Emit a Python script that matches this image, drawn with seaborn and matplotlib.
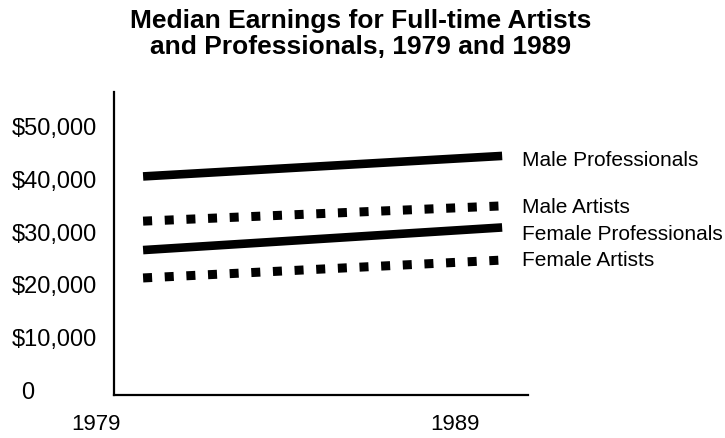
import numpy as np
import pandas as pd
import matplotlib
matplotlib.use("Agg")
import matplotlib.pyplot as plt
import matplotlib.transforms as mtransforms
import seaborn as sns

# ---- data ----
years = [1979, 1989]
groups = ["Male Professionals", "Male Artists", "Female Professionals", "Female Artists"]
male_professionals = [40600, 44500]
male_artists = [32100, 35000]
female_professionals = [26600, 30900]
female_artists = [21300, 24700]
y_ticks = [0, 10000, 20000, 30000, 40000, 50000]
y_tick_labels = ["0", "$10,000", "$20,000", "$30,000", "$40,000", "$50,000"]
x_tick_labels = ["1979", "1989"]
title = "Median Earnings for Full-time Artists\nand Professionals, 1979 and 1989"

series = {
    "Male Professionals": male_professionals,
    "Male Artists": male_artists,
    "Female Professionals": female_professionals,
    "Female Artists": female_artists,
}
df = pd.DataFrame(
    [(g, y, v) for g, vals in series.items() for y, v in zip(years, vals)],
    columns=["group", "year", "earnings"],
)

sns.set_style("white")
plt.rcParams["font.family"] = ["Liberation Sans", "DejaVu Sans"]
plt.rcParams["text.color"] = "black"
plt.rcParams["xtick.color"] = "black"
plt.rcParams["ytick.color"] = "black"
plt.rcParams["xtick.labelcolor"] = "black"
plt.rcParams["ytick.labelcolor"] = "black"

fig = plt.figure(figsize=(7.25, 4.38), dpi=100)
ax = fig.add_axes([114 / 725, (438 - 395) / 438, (528 - 114) / 725, (395 - 92) / 438])

dashes = {
    "Male Professionals": "",
    "Male Artists": (1, 1.4),
    "Female Professionals": "",
    "Female Artists": (1, 1.4),
}
palette = {g: "black" for g in groups}
sns.lineplot(data=df, x="year", y="earnings", hue="group", style="group",
             palette=palette, dashes=dashes, hue_order=groups, style_order=groups,
             legend=False, ax=ax, linewidth=6.2)
for ln, g in zip(ax.get_lines(), groups):
    ln.set_solid_capstyle("butt")
    ln.set_dash_capstyle("butt")
    if dashes[g] != "":
        ln.set_linewidth(6.5)

ax.set_xlim(1978.19, 1989.72)
ax.set_ylim(-950, 56650)

ax.set_yticks(y_ticks)
ax.set_yticklabels(y_tick_labels, fontsize=17, color="black")
ax.set_xticks(years)
ax.set_xticklabels(x_tick_labels, fontsize=16, color="black")
ax.tick_params(axis="y", length=0, pad=12)
ax.tick_params(axis="x", length=0, pad=14)
ax.set_xlabel("")
ax.set_ylabel("")

# shift tick labels to match the original layout
shift_x = mtransforms.ScaledTranslation(-47 / 100, 0, fig.dpi_scale_trans)
for lbl in ax.get_xticklabels():
    lbl.set_transform(lbl.get_transform() + shift_x)
zero_lbl = ax.get_yticklabels()[0]
zero_lbl.set_transform(zero_lbl.get_transform() +
                       mtransforms.ScaledTranslation(-63 / 100, 0, fig.dpi_scale_trans))

for side in ["top", "right"]:
    ax.spines[side].set_visible(False)
for side in ["left", "bottom"]:
    ax.spines[side].set_color("black")
    ax.spines[side].set_linewidth(1.6)

# direct labels
label_offsets = {
    "Male Professionals": -7.2,
    "Male Artists": -4.8,
    "Female Professionals": -8.9,
    "Female Artists": -4.3,
}
for g in groups:
    ax.annotate(g, xy=(years[-1], series[g][-1]), xytext=(14, label_offsets[g]),
                textcoords="offset points", ha="left", va="baseline",
                fontsize=15, color="black", annotation_clip=False)

fig.text(0.497, 1 - 9 / 438, title, ha="center", va="top", fontsize=19,
         fontweight="bold", linespacing=1.1, color="black")

fig.savefig("out.png", dpi=100, facecolor="white")
